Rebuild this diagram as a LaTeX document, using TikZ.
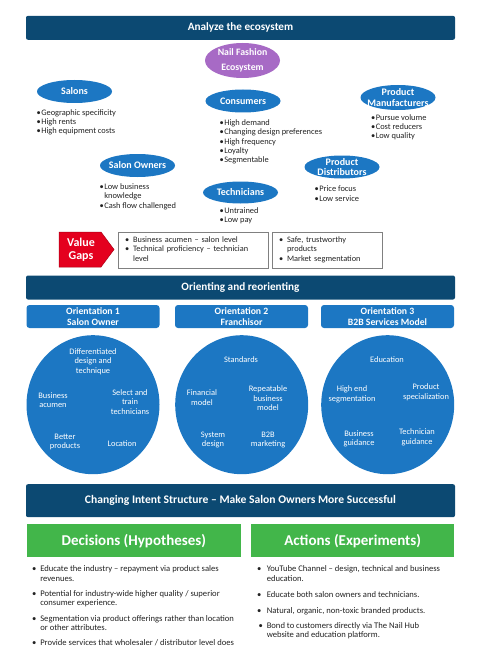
\documentclass[tikz,border=0pt]{standalone}
\usepackage{fontspec}
\setmainfont{Carlito}
\usetikzlibrary{shapes.geometric}

\definecolor{navy}{RGB}{12,73,114}
\definecolor{ecoblue}{RGB}{28,119,195}
\definecolor{ecopurple}{RGB}{167,106,197}
\definecolor{gapred}{RGB}{228,0,30}
\definecolor{leafgreen}{RGB}{66,182,74}
\definecolor{ink}{RGB}{34,34,34}

\newcommand{\toplist}[1]{\begin{tabular}[t]{@{}l@{\hspace{0.6pt}}l@{}}#1\end{tabular}}
\newcommand{\boxlist}[1]{\begin{tabular}[t]{@{}l@{\hspace{4pt}}l@{}}#1\end{tabular}}

\begin{document}
\begin{tikzpicture}
[x=1pt,y=-1pt,%
  every node/.style={inner sep=0pt,outer sep=0pt},%
  banner/.style={fill=navy,rounded corners=2pt,minimum width=429pt,minimum height=24pt,
    text=white,font=\bfseries\fontsize{11.2}{13}\selectfont},%
  eco/.style={ellipse,fill=ecoblue,minimum width=75pt,minimum height=23pt},%
  ecotext/.style={text=white,align=center,font=\bfseries\fontsize{10}{10.5}\selectfont},%
  bullets/.style={anchor=base west,text=ink,font=\fontsize{8.4}{9.4}\selectfont},%
  gapbox/.style={draw=gray,line width=0.6pt,minimum height=36pt,inner xsep=7pt,
    align=left,text=ink,font=\fontsize{8.3}{9.4}\selectfont},%
  orient/.style={fill=ecoblue,rounded corners=3pt,minimum width=133pt,minimum height=23pt,
    text=white,align=center,font=\bfseries\fontsize{9.7}{11}\selectfont},%
  disc/.style={ellipse,fill=ecoblue,minimum width=133pt,minimum height=139pt},%
  intext/.style={text=white,align=center,font=\fontsize{8.4}{9.5}\selectfont},%
  greenbar/.style={fill=leafgreen,minimum height=33pt,text=white,
    font=\bfseries\fontsize{15}{17}\selectfont},%
  plan/.style={anchor=base west,text=ink,font=\fontsize{8.6}{9.3}\selectfont}]
\useasboundingbox (0,0) rectangle (480,650);
%%
\node[banner] (analyze) at (240.5,27.8) {Analyze the ecosystem};
\node[ellipse,fill=ecopurple,minimum width=75pt,minimum height=35pt,
  label={[text=white,align=center,font=\bfseries\fontsize{9.8}{15}\selectfont]center:Nail Fashion\\Ecosystem}]
  (nail) at (242.5,60.5) {};
%%
\node[eco,label={[ecotext]center:Salons}] (salons) at (74.5,91.5) {};
\node[bullets] (salonsList) at (36.5,115.2)
  {\toplist{\textbullet & Geographic specificity\\ \textbullet & High rents\\ \textbullet & High equipment costs}};
\node[eco,label={[ecotext]center:Consumers}] (consumers) at (243,101) {};
\node[bullets] (consumersList) at (219.5,125.2)
  {\toplist{\textbullet & High demand\\ \textbullet & Changing design preferences\\ \textbullet & High frequency\\
   \textbullet & Loyalty\\ \textbullet & Segmentable}};
\node[eco,minimum height=25pt,label={[ecotext]center:Product\\Manufacturers}] (makers) at (398,97.5) {};
\node[bullets] (makersList) at (371,120.2)
  {\toplist{\textbullet & Pursue volume\\ \textbullet & Cost reducers\\ \textbullet & Low quality}};
\node[eco,label={[ecotext]center:Salon Owners}] (owners) at (137.5,165.5) {};
\node[bullets] (ownersList) at (99.5,189.2)
  {\toplist{\textbullet & Low business\\ & knowledge\\ \textbullet & Cash flow challenged}};
\node[eco,minimum height=23pt,label={[ecotext]center:Product\\Distributors}] (distrib) at (342,167) {};
\node[bullets] (distribList) at (314.5,191.8)
  {\toplist{\textbullet & Price focus\\ \textbullet & Low service}};
\node[eco,minimum height=22pt,label={[ecotext]center:Technicians}] (techs) at (240.5,192.5) {};
\node[bullets] (techsList) at (219.5,213.5)
  {\toplist{\textbullet & Untrained\\ \textbullet & Low pay}};
%%
\coordinate (gapTip) at (114,249.5);
\filldraw[fill=gapred,draw=gapred!75!black,line width=0.5pt,line join=miter]
  (59,232) -- (101,232) -- (gapTip) -- (101,267) -- (59,267) -- cycle;
\node[text=white,align=center,font=\bfseries\fontsize{12}{13}\selectfont] (gaps) at (81,249.5) {Value\\Gaps};
\node[gapbox,minimum width=150pt,text width=136pt] (gapLeft) at (193,250)
  {\boxlist{\textbullet & Business acumen -- salon level\\ \textbullet & Technical proficiency -- technician\\ & level}};
\node[gapbox,minimum width=110pt,text width=96pt] (gapRight) at (327,250)
  {\boxlist{\textbullet & Safe, trustworthy\\ & products\\ \textbullet & Market segmentation}};
%%
\node[banner] (orienting) at (240.5,287.5) {Orienting and reorienting};
\node[orient] (orient1) at (93,316.5) {Orientation 1\\Salon Owner};
\node[orient] (orient2) at (241.5,316.5) {Orientation 2\\Franchisor};
\node[orient] (orient3) at (387.5,316.5) {Orientation 3\\B2B Services Model};
%%
\node[disc] (owner) at (93,404.7) {};
\node[intext] (differ) at (93,361.5) {Differentiated\\design and\\technique};
\node[intext] (acumen) at (53,400.3) {Business\\acumen};
\node[intext] (select) at (130,402) {Select and\\train\\technicians};
\node[intext] (better) at (65,441.8) {Better\\products};
\node[intext] (location) at (122,443.3) {Location};
%%
\node[disc] (franchise) at (241.7,404.7) {};
\node[intext] (standards) at (241,359.3) {Standards};
\node[intext] (financial) at (202,397.5) {Financial\\model};
\node[intext] (repeat) at (268,398.3) {Repeatable\\business\\model};
\node[intext] (system) at (213,440) {System\\design};
\node[intext] (marketing) at (268,440) {B2B\\marketing};
%%
\node[disc] (services) at (387.7,404.7) {};
\node[intext] (education) at (387,359.3) {Education};
\node[intext] (highend) at (352,394.3) {High end\\segmentation};
\node[intext] (special) at (426,392.3) {Product\\specialization};
\node[intext] (guidance) at (359,438.7) {Business\\guidance};
\node[intext] (techguide) at (417,437.5) {Technician\\guidance};
%%
\node[banner,minimum height=33pt,font=\bfseries\fontsize{11.6}{13}\selectfont] (intent) at (240.5,500.7)
  {Changing Intent Structure -- Make Salon Owners More Successful};
\node[greenbar,minimum width=214pt] (decisions) at (133.8,540.7) {Decisions (Hypotheses)};
\node[greenbar,minimum width=203pt] (actions) at (352.7,540.7) {Actions (Experiments)};
\node[plan] (decisionsList) at (32,571.9)
  {\boxlist{\textbullet & Educate the industry -- repayment via product sales\\ & revenues.\\[6pt]
   \textbullet & Potential for industry-wide higher quality / superior\\ & consumer experience.\\[6pt]
   \textbullet & Segmentation via product offerings rather than location\\ & or other attributes.\\[6pt]
   \textbullet & Provide services that wholesaler / distributor level does}};
\node[plan] (actionsList) at (257,571.9)
  {\boxlist{\textbullet & YouTube Channel -- design, technical and business\\ & education.\\[7pt]
   \textbullet & Educate both salon owners and technicians.\\[6.4pt]
   \textbullet & Natural, organic, non-toxic branded products.\\[6pt]
   \hspace{1.5pt}\textbullet & Bond to customers directly via The Nail Hub\\ & website and education platform.}};
\end{tikzpicture}
\end{document}
